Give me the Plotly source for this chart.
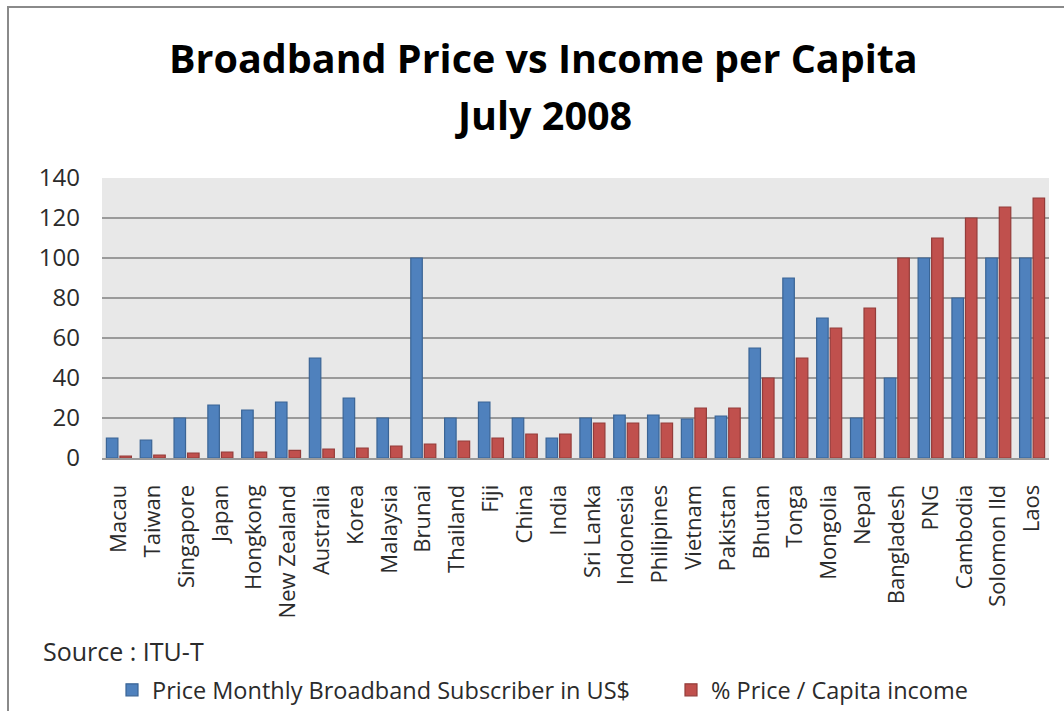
import plotly.graph_objects as go

countries = [
    "Macau", "Taiwan", "Singapore", "Japan", "Hongkong", "New Zealand", "Australia",
    "Korea", "Malaysia", "Brunai", "Thailand", "Fiji", "China", "India", "Sri Lanka",
    "Indonesia", "Philipines", "Vietnam", "Pakistan", "Bhutan", "Tonga", "Mongolia",
    "Nepal", "Bangladesh", "PNG", "Cambodia", "Solomon Ild", "Laos",
]
price_usd = [10, 9, 20, 26.5, 24, 28, 50, 30, 20, 100, 20, 28, 20, 10, 20,
             21.5, 21.5, 19.5, 21, 55, 90, 70, 20, 40, 100, 80, 100, 100]
pct_income = [1, 1.5, 2.5, 3, 3, 3.8, 4.5, 5, 6, 7, 8.5, 10, 12, 12, 17.5,
              17.5, 17.5, 25, 25, 40, 50, 65, 75, 100, 110, 120, 125.5, 130]

series_names = ["Price Monthly Broadband Subscriber in US$", "% Price / Capita income"]
y_ticks = [0, 20, 40, 60, 80, 100, 120, 140]

BODY_FONT = "Open Sans"
TEXT_COLOR = "#2b2b2b"

fig = go.Figure()
fig.add_bar(x=countries, y=price_usd, name=series_names[0], legend="legend",
            marker=dict(color="#4f81bd", line=dict(color="#3a6495", width=1.2)))
fig.add_bar(x=countries, y=pct_income, name=series_names[1], legend="legend2",
            marker=dict(color="#c0504d", line=dict(color="#943c3a", width=1.2)))

L, R, T, B = 102, 15, 178, 253
W, H = 1064, 711
pw, ph = W - L - R, H - T - B


def px_x(x):
    return (x - L) / pw


def px_y(y):
    return (H - B - y) / ph


legend_style = dict(
    orientation="h", yanchor="middle", xanchor="left",
    font=dict(family=BODY_FONT, size=23.5, color=TEXT_COLOR),
    bgcolor="rgba(0,0,0,0)", itemwidth=30,
)

fig.update_layout(
    width=W, height=H,
    margin=dict(l=L, r=R, t=T, b=B, pad=0, autoexpand=False),
    paper_bgcolor="white",
    plot_bgcolor="#e8e8e8",
    barmode="group",
    bargap=0.2,
    bargroupgap=0.15,
    font=dict(family=BODY_FONT, size=22, color=TEXT_COLOR),
    showlegend=True,
    legend=dict(x=px_x(112), y=px_y(690), **legend_style),
    legend2=dict(x=px_x(671), y=px_y(690), **legend_style),
    xaxis=dict(
        tickangle=-90,
        tickfont=dict(family=BODY_FONT, size=22, color=TEXT_COLOR),
        ticklabelstandoff=16,
        showgrid=False,
        showline=True, linecolor="#9a9a9a", linewidth=2,
        ticks="",
    ),
    yaxis=dict(
        range=[0, 140],
        tickvals=y_ticks,
        tickfont=dict(family=BODY_FONT, size=24, color=TEXT_COLOR),
        showgrid=True, gridcolor="#9a9a9a", gridwidth=2,
        zeroline=False,
        ticks="",
        ticklabelstandoff=21,
    ),
    annotations=[
        dict(text="<b>Broadband Price vs Income per Capita</b>",
             xref="paper", yref="paper", x=px_x(543), y=px_y(58),
             xanchor="center", yanchor="middle", showarrow=False,
             font=dict(family="Open Sans", size=39.5, color="#000000")),
        dict(text="<b>July 2008</b>",
             xref="paper", yref="paper", x=px_x(543), y=px_y(115),
             xanchor="center", yanchor="middle", showarrow=False,
             font=dict(family="Open Sans", size=39.5, color="#000000")),
        dict(text="Source : ITU-T",
             xref="paper", yref="paper", x=px_x(41), y=px_y(651),
             xanchor="left", yanchor="middle", showarrow=False,
             font=dict(family=BODY_FONT, size=25, color=TEXT_COLOR)),
    ],
    shapes=[
        # outer chart border
        dict(type="rect", xref="paper", yref="paper",
             x0=px_x(8), x1=px_x(1090), y0=px_y(7), y1=px_y(740),
             line=dict(color="#8a8a8a", width=2), fillcolor="rgba(0,0,0,0)", layer="above"),
    ],
)

fig.write_html("out.html")
